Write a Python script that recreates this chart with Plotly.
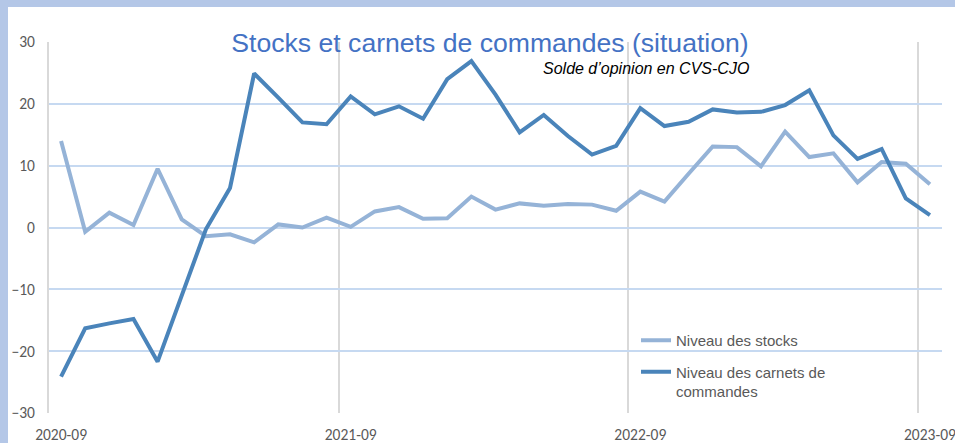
import plotly.graph_objects as go

months = [f"{y}-{m:02d}" for y, m in
          [(2020, 9), (2020, 10), (2020, 11), (2020, 12),
           (2021, 1), (2021, 2), (2021, 3), (2021, 4), (2021, 5), (2021, 6), (2021, 7), (2021, 8),
           (2021, 9), (2021, 10), (2021, 11), (2021, 12),
           (2022, 1), (2022, 2), (2022, 3), (2022, 4), (2022, 5), (2022, 6), (2022, 7), (2022, 8),
           (2022, 9), (2022, 10), (2022, 11), (2022, 12),
           (2023, 1), (2023, 2), (2023, 3), (2023, 4), (2023, 5), (2023, 6), (2023, 7), (2023, 8),
           (2023, 9)]]

stocks = [14.0, -0.7, 2.4, 0.4, 9.5, 1.3, -1.4, -1.1, -2.4, 0.5, 0.0, 1.6,
          0.1, 2.6, 3.3, 1.4, 1.5, 5.0, 2.9, 3.9, 3.5, 3.8, 3.7, 2.7,
          5.8, 4.2, 8.7, 13.1, 13.0, 9.9, 15.5, 11.4, 12.0, 7.3, 10.6, 10.3,
          7.0]

carnets = [-24.1, -16.3, -15.5, -14.8, -21.7, -10.9, -0.3, 6.4, 24.9, 21.0, 17.0, 16.7,
           21.2, 18.3, 19.6, 17.6, 24.0, 26.9, 21.5, 15.4, 18.2, 14.8, 11.8, 13.2,
           19.3, 16.4, 17.1, 19.1, 18.6, 18.7, 19.8, 22.2, 14.9, 11.1, 12.7, 4.7,
           2.0]

y_ticks = [-30, -20, -10, 0, 10, 20, 30]

TICK_FONT = dict(family="Carlito, Lato, sans-serif", size=15.5, color="#595959")
FRAME = "#B4C7E7"

fig = go.Figure()
fig.add_trace(go.Scatter(
    x=months, y=stocks, mode="lines", name="Niveau des stocks",
    line=dict(color="#95B3D7", width=4), legendgroup="a"))
fig.add_trace(go.Scatter(
    x=months, y=carnets, mode="lines", name="Niveau des carnets de<br>commandes",
    line=dict(color="#4A84BA", width=4), legendgroup="b"))

fig.update_layout(
    width=955, height=443,
    margin=dict(l=49, r=13, t=42, b=30, autoexpand=False),
    paper_bgcolor="white", plot_bgcolor="white",
    title=dict(text="Stocks et carnets de commandes (situation)",
               font=dict(family="Liberation Sans, Arial, sans-serif", size=26.6, color="#4472C4"),
               x=(490 - 49) / 893, xref="paper", xanchor="center",
               y=1 - 43 / 443, yref="container", yanchor="middle"),
    showlegend=True,
    legend=dict(x=(636 - 49) / 893, y=(413 - 324) / 371, xanchor="left", yanchor="top",
                bgcolor="rgba(0,0,0,0)", traceorder="grouped", tracegroupgap=9,
                valign="top",
                font=dict(family="Liberation Sans, Arial, sans-serif", size=15, color="#595959")),
    xaxis=dict(type="category", range=[-0.5, len(months) - 0.5],
               tickmode="linear", tick0=0, dtick=12, tickson="boundaries",
               tickangle=0,
               showgrid=True, gridcolor="#D9D9D9", gridwidth=2,
               ticks="", showline=False, zeroline=False,
               tickfont=TICK_FONT, ticklabelstandoff=10, automargin=False),
    yaxis=dict(range=[-30, 30], tickvals=y_ticks,
               showgrid=True, gridcolor="#C6D9F1", gridwidth=2,
               zeroline=False, showline=True, linecolor="#D9D9D9", linewidth=2,
               ticks="", tickfont=TICK_FONT, ticklabelstandoff=9, automargin=False),
    annotations=[dict(text="<i>Solde d’opinion en CVS-CJO</i>", showarrow=False,
                      xref="paper", yref="paper",
                      x=(751 - 49) / 893, y=(413 - 68) / 371,
                      xanchor="right", yanchor="middle",
                      font=dict(family="Liberation Sans, Arial, sans-serif", size=16, color="black"))],
    shapes=[
        dict(type="rect", xref="paper", yref="paper",
             x0=(0 - 49) / 893 - 0.01, x1=(8 - 49) / 893, y0=-1, y1=2,
             fillcolor=FRAME, line=dict(width=0), layer="above"),
        dict(type="rect", xref="paper", yref="paper",
             x0=-1, x1=2, y0=(413 - 7) / 371, y1=(413 + 10) / 371,
             fillcolor=FRAME, line=dict(width=0), layer="above"),
    ],
)

fig.write_html("out.html", config={"displayModeBar": False},
               post_script="document.body.style.margin='0px';document.body.style.padding='0px';")
